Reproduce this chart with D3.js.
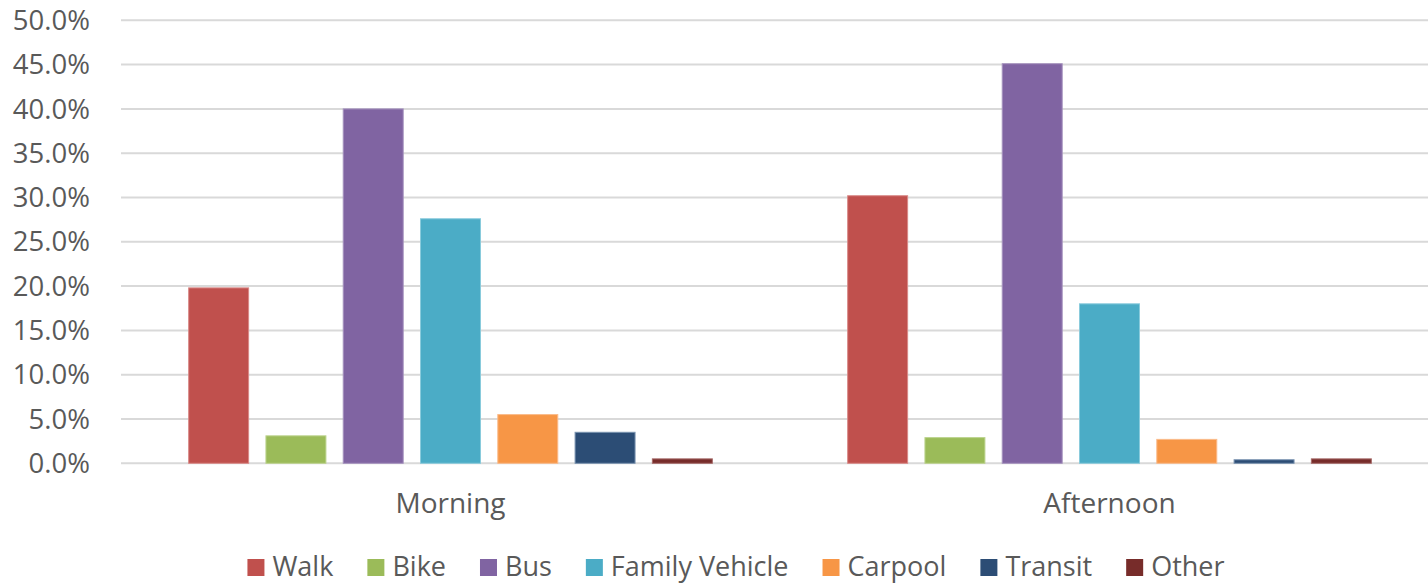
<!DOCTYPE html>
<html><head><meta charset="utf-8">
<script src="https://cdn.jsdelivr.net/npm/d3@7"></script>
<style>body{margin:0;background:#fff;}svg{display:block;}</style>
</head><body><svg id="c" width="1428" height="583"></svg>
<script>
const categories = ["Morning", "Afternoon"];
const series = ["Walk", "Bike", "Bus", "Family Vehicle", "Carpool", "Transit", "Other"];
const morning = [0.198, 0.031, 0.400, 0.276, 0.055, 0.035, 0.005];
const afternoon = [0.302, 0.029, 0.451, 0.180, 0.027, 0.004, 0.005];
const colors = ["#C0504D", "#9BBB59", "#8064A2", "#4BACC6", "#F79646", "#2C4D75", "#772C2A"];
const strokes = ["#D98A88", "#BCD38E", "#A693BE", "#8ACBDC", "#FABB8A", "#7A93B0", "#A66A68"];
const yTicks = [0, 0.05, 0.10, 0.15, 0.20, 0.25, 0.30, 0.35, 0.40, 0.45, 0.50];

const values = [morning, afternoon];
const svg = d3.select("#c");
const plotLeft = 121, plotRight = 1439, plotTop = 20.3, plotBottom = 463.3;
const y = d3.scaleLinear().domain([0, 0.5]).range([plotBottom, plotTop]);
const x0 = d3.scaleBand().domain(categories).range([plotLeft, plotRight]).padding(0);
const x1 = d3.scaleBand().domain(series).range([59, 600]).paddingInner(0.211).paddingOuter(0.1055);
const fmt = d3.format(".1%");

// gridlines
svg.append("g").selectAll("line").data(yTicks).join("line")
  .attr("x1", plotLeft).attr("x2", 1428)
  .attr("y1", d => y(d)).attr("y2", d => y(d))
  .attr("stroke", "#d9d9d9").attr("stroke-width", 2);

// y labels
svg.append("g").selectAll("text").data(yTicks).join("text")
  .attr("x", 90).attr("y", d => y(d)).attr("dy", "0.35em")
  .attr("text-anchor", "end")
  .attr("font-family", "Open Sans").attr("font-size", 27.5).attr("fill", "#595959")
  .text(d => fmt(d));

// bars
categories.forEach((c, ci) => {
  const g = svg.append("g").attr("transform", `translate(${x0(c)},0)`);
  g.selectAll("rect").data(series).join("rect")
    .attr("x", s => x1(s) + 0.5)
    .attr("width", x1.bandwidth() - 1)
    .attr("y", (s, i) => y(values[ci][i]))
    .attr("height", (s, i) => plotBottom - y(values[ci][i]))
    .attr("fill", (s, i) => colors[i])
    .attr("stroke", (s, i) => strokes[i]).attr("stroke-width", 1);
});

// category labels
svg.append("g").selectAll("text").data(categories).join("text")
  .attr("x", d => x0(d) + x0.bandwidth() / 2)
  .attr("y", 513)
  .attr("text-anchor", "middle")
  .attr("font-family", "Open Sans").attr("font-size", 28).attr("fill", "#595959")
  .text(d => d);

// legend
const lg = svg.append("g");
const items = lg.selectAll("g").data(series).join("g");
items.append("rect").attr("width", 17).attr("height", 17).attr("y", 559)
  .attr("fill", (d, i) => colors[i]);
items.append("text").attr("x", 25).attr("y", 575.5)
  .attr("font-family", "Open Sans").attr("font-size", 27).attr("fill", "#595959")
  .text(d => d);
let cx = 0;
const offs = [];
items.each(function(d, i) {
  const w = d3.select(this).select("text").node().getComputedTextLength();
  offs.push(cx);
  cx += 25 + w + 34;
});
const total = cx - 34;
const start = 736 - total / 2;
items.attr("transform", (d, i) => `translate(${start + offs[i]},0)`);
</script></body></html>
